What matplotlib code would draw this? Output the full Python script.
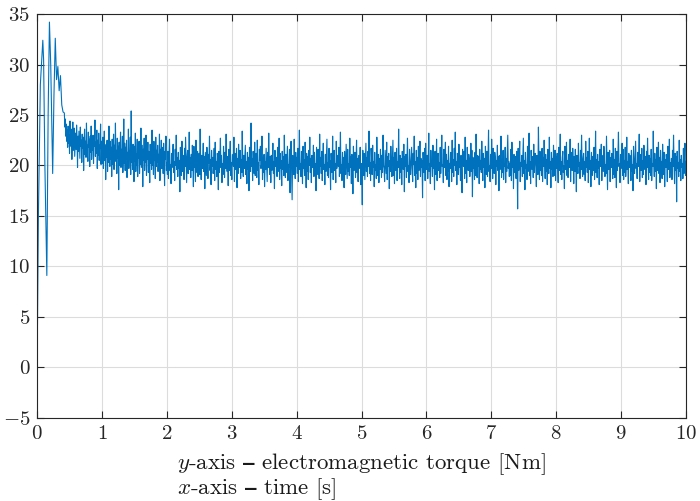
import numpy as np
import matplotlib
matplotlib.use("Agg")
import matplotlib.pyplot as plt

# ---- data ----
transient_time = [0.0, 0.02, 0.05, 0.088, 0.10, 0.12, 0.15, 0.17, 0.19, 0.21, 0.24, 0.26, 0.28,
                  0.30, 0.32, 0.34, 0.36, 0.38, 0.40]
transient_torque = [0.0, 15.0, 28.0, 32.4, 30.5, 20.0, 9.1, 25.0, 34.2, 30.0, 19.2, 27.0, 32.6,
                    28.5, 29.8, 27.4, 28.9, 26.0, 25.3]

early_span = (0.42, 1.0)
torque_early = [
    25.2, 23.8, 24.6, 22.9, 24.1, 22.4, 23.5, 21.8, 23.9, 22.2,
    23.0, 21.2, 24.4, 22.7, 21.9, 23.6, 20.6, 22.8, 24.3, 21.5,
    22.4, 23.7, 20.9, 22.1, 23.2, 21.6, 24.0, 22.6, 19.8, 22.9,
    21.4, 23.4, 22.0, 20.7, 23.8, 21.9, 22.5, 20.3, 23.1, 21.7,
    22.8, 19.5, 22.2, 23.6, 21.1, 22.4, 20.8, 24.2, 21.6, 22.0,
    20.4, 23.3, 21.8, 22.6, 19.9, 22.9, 21.3, 23.9, 20.6, 22.1,
    21.5, 23.0, 20.2, 22.7, 21.9, 24.5, 20.9, 22.3, 21.2, 23.5,
    19.7, 22.5, 21.0, 23.2, 20.5, 22.0, 21.7, 24.1, 20.1, 22.4,
]

mid_span = (1.0, 2.0)
torque_mid = [
    21.6, 20.2, 22.8, 19.7, 21.3, 23.4, 20.5, 21.9, 18.6, 22.1,
    20.8, 22.5, 19.4, 21.7, 20.3, 23.9, 21.1, 19.9, 22.4, 20.6,
    21.8, 18.9, 22.6, 20.1, 21.4, 23.1, 19.6, 22.0, 20.9, 24.2,
    20.4, 21.5, 19.2, 22.7, 20.7, 21.9, 17.6, 22.3, 20.0, 21.2,
    23.3, 19.8, 21.6, 20.5, 22.9, 19.3, 21.0, 24.6, 20.2, 22.2,
    19.5, 21.8, 20.6, 22.5, 18.8, 21.3, 20.0, 23.6, 19.7, 21.4,
    20.9, 22.8, 19.1, 25.4, 20.3, 21.7, 19.6, 22.1, 20.8, 18.4,
    21.9, 20.4, 23.2, 19.4, 21.1, 20.0, 22.6, 18.9, 21.5, 20.7,
    22.4, 19.2, 21.3, 20.1, 23.7, 19.8, 21.0, 22.0, 17.9, 21.6,
    20.5, 22.7, 19.5, 21.2, 20.3, 23.0, 19.0, 21.8, 20.6, 22.3,
    19.3, 21.4, 20.8, 18.3, 22.1, 20.2, 21.7, 19.6, 23.5, 20.0,
    21.3, 19.1, 22.4, 20.5, 21.0, 18.7, 22.8, 19.9, 21.5, 20.3,
    22.0, 19.4, 21.1, 20.7, 23.1, 18.5, 21.6, 20.1, 22.5, 19.7,
    20.9, 21.8, 19.2, 22.2, 20.4, 18.0, 21.4, 20.6, 22.9, 19.5,
]

steady_span = (2.0, 10.0)
torque_steady = [
    20.3, 19.1, 21.4, 18.7, 20.9, 22.6, 19.5, 20.1, 18.2, 21.2,
    19.8, 20.7, 22.1, 19.3, 20.4, 18.5, 21.6, 20.0, 23.0, 19.6,
    20.8, 18.9, 21.3, 19.7, 20.5, 17.4, 21.8, 20.2, 19.0, 22.4,
    19.4, 21.0, 20.3, 18.6, 21.7, 19.9, 22.8, 20.6, 18.3, 20.9,
    21.5, 19.2, 20.1, 23.3, 19.6, 20.8, 18.8, 21.1, 19.5, 22.0,
    20.4, 17.9, 21.9, 19.8, 20.6, 18.4, 22.5, 20.0, 19.3, 21.4,
    18.9, 20.7, 21.2, 19.1, 23.6, 20.3, 18.6, 21.0, 19.7, 20.5,
    22.2, 19.4, 20.9, 17.7, 21.3, 20.1, 19.0, 21.8, 20.4, 18.7,
    21.1, 20.2, 22.9, 19.5, 20.6, 18.1, 21.5, 19.9, 20.8, 19.2,
    20.0, 21.7, 18.5, 22.3, 19.6, 20.4, 18.9, 21.2, 20.7, 17.6,
    21.4, 19.3, 20.5, 22.7, 19.8, 21.0, 18.3, 20.2, 19.1, 21.9,
    20.6, 18.8, 21.3, 19.7, 23.1, 20.1, 19.4, 20.9, 18.0, 21.6,
    19.5, 20.8, 22.4, 19.0, 20.3, 18.6, 21.1, 20.5, 19.9, 22.8,
    18.4, 21.2, 20.0, 19.6, 21.7, 17.8, 20.7, 19.2, 22.1, 20.4,
    19.8, 21.5, 18.7, 20.6, 19.3, 23.4, 20.1, 18.9, 21.0, 19.7,
    20.9, 22.0, 19.1, 20.4, 18.2, 21.3, 19.6, 20.8, 17.5, 21.8,
    20.2, 19.4, 24.2, 19.9, 20.7, 18.5, 21.4, 20.0, 19.2, 22.3,
    19.0, 20.6, 21.2, 18.8, 22.5, 19.5, 20.3, 18.1, 21.6, 20.5,
    21.9, 19.7, 20.1, 22.9, 18.6, 20.8, 19.3, 21.1, 17.9, 20.4,
    19.6, 21.7, 20.0, 18.4, 21.3, 19.8, 23.2, 20.2, 19.1, 20.9,
    18.3, 21.0, 19.5, 20.6, 22.2, 19.2, 20.4, 17.7, 21.5, 20.1,
    19.9, 20.8, 18.9, 21.8, 19.4, 20.3, 22.7, 18.6, 21.2, 19.7,
    20.5, 18.0, 21.4, 19.6, 20.9, 19.0, 23.0, 20.2, 18.8, 21.1,
    19.3, 20.7, 21.9, 18.5, 20.1, 19.8, 21.6, 17.3, 20.6, 22.4,
    19.5, 16.6, 21.0, 20.3, 19.1, 22.6, 20.0, 18.7, 21.3, 19.9,
    20.8, 19.2, 21.7, 18.4, 20.5, 23.5, 19.6, 20.2, 18.9, 21.4,
    20.1, 18.2, 21.9, 19.7, 20.6, 19.0, 22.3, 20.4, 17.8, 21.2,
    19.4, 20.9, 18.6, 21.5, 20.0, 22.8, 19.3, 20.7, 18.3, 21.0,
    20.5, 19.8, 22.0, 18.9, 21.3, 19.5, 20.2, 17.5, 21.8, 20.3,
    19.1, 21.6, 20.4, 18.7, 23.1, 19.9, 20.8, 19.2, 21.4, 18.5,
    20.6, 22.2, 19.6, 20.1, 18.1, 21.1, 19.4, 20.9, 22.6, 19.0,
    20.3, 18.8, 21.7, 19.8, 20.5, 17.6, 21.2, 20.0, 19.3, 22.9,
    18.6, 20.7, 21.5, 19.5, 20.2, 18.3, 22.4, 19.7, 21.0, 20.4,
    19.9, 21.8, 18.9, 20.6, 23.3, 19.2, 20.1, 18.5, 21.3, 19.6,
    20.8, 17.8, 21.4, 20.0, 19.1, 22.1, 20.5, 18.7, 21.6, 19.4,
    20.2, 19.0, 22.7, 19.8, 20.9, 18.2, 21.1, 20.3, 17.2, 21.9,
    19.5, 20.6, 21.3, 18.8, 20.0, 22.5, 19.3, 20.7, 18.4, 21.0,
    20.4, 19.7, 21.8, 18.1, 20.2, 19.6, 16.1, 21.5, 20.1, 19.0,
    21.2, 18.6, 20.5, 22.2, 19.4, 20.8, 18.9, 21.4, 19.9, 23.4,
    19.2, 20.3, 18.5, 21.7, 20.6, 19.1, 22.0, 19.8, 20.4, 17.9,
    21.3, 19.5, 20.1, 18.7, 22.8, 20.2, 19.0, 21.1, 18.3, 20.7,
    19.6, 21.6, 20.3, 18.8, 21.0, 19.3, 23.0, 20.0, 19.7, 18.4,
    21.5, 20.4, 19.2, 22.3, 18.6, 20.9, 19.9, 21.2, 17.7, 20.5,
    19.4, 21.9, 20.1, 18.9, 20.6, 22.5, 19.0, 20.8, 18.2, 21.3,
    20.0, 19.5, 21.7, 18.5, 20.4, 19.8, 23.6, 20.2, 18.7, 21.0,
    19.3, 20.7, 18.1, 21.4, 20.3, 19.6, 22.1, 17.4, 20.9, 19.9,
    21.1, 18.8, 20.5, 22.7, 19.4, 20.0, 18.3, 21.6, 20.2, 19.1,
    20.6, 21.8, 19.7, 18.4, 21.2, 20.1, 22.9, 19.0, 20.4, 17.8,
    21.5, 19.2, 20.8, 18.6, 21.9, 19.5, 20.3, 22.4, 18.9, 20.7,
    19.8, 20.5, 16.8, 21.3, 20.0, 19.3, 21.7, 18.5, 22.2, 20.1,
    19.6, 21.0, 18.7, 20.6, 23.2, 19.4, 20.2, 18.2, 21.5, 19.9,
    20.4, 18.9, 22.0, 19.7, 20.8, 17.6, 21.4, 20.0, 19.1, 22.6,
    18.5, 20.9, 21.2, 19.5, 20.3, 18.8, 21.8, 19.2, 20.6, 23.0,
    19.9, 20.1, 18.3, 21.6, 19.8, 20.7, 22.3, 19.0, 21.1, 18.6,
    20.5, 19.4, 21.9, 17.9, 20.2, 19.7, 21.3, 20.8, 18.4, 22.5,
    19.3, 20.6, 18.9, 21.7, 20.0, 23.3, 19.5, 20.4, 18.1, 21.2,
    20.7, 19.1, 22.1, 19.8, 20.3, 18.5, 21.0, 19.6, 17.3, 21.6,
    20.1, 19.9, 21.4, 18.7, 22.8, 19.2, 20.5, 18.3, 21.8, 20.3,
    19.5, 21.1, 20.6, 18.9, 20.0, 22.2, 19.4, 21.5, 16.9, 20.8,
    19.7, 20.4, 18.6, 21.3, 19.0, 23.1, 20.2, 18.8, 21.0, 19.9,
    20.9, 18.2, 21.6, 19.6, 20.5, 19.3, 22.4, 20.1, 18.5, 21.2,
    19.8, 20.7, 17.8, 21.9, 20.3, 19.1, 21.4, 18.9, 20.6, 23.5,
    19.4, 20.0, 18.4, 21.1, 19.7, 22.6, 20.4, 18.7, 21.7, 20.2,
    19.2, 21.3, 20.8, 18.1, 20.5, 19.9, 22.0, 19.5, 20.9, 17.5,
    21.0, 19.6, 20.3, 22.9, 18.8, 20.6, 19.3, 21.5, 18.6, 20.1,
    19.9, 21.8, 18.3, 20.7, 19.4, 21.2, 23.0, 19.7, 20.4, 18.9,
    20.2, 19.0, 21.6, 18.5, 22.3, 19.8, 20.5, 17.7, 21.1, 20.0,
    19.3, 20.9, 18.7, 21.4, 20.1, 15.7, 21.7, 19.5, 20.6, 22.4,
    18.4, 20.3, 19.9, 21.0, 18.9, 20.8, 22.7, 19.2, 20.5, 17.6,
    21.3, 19.7, 20.1, 18.6, 21.9, 19.4, 20.7, 23.2, 19.0, 20.4,
    18.2, 21.5, 20.0, 19.6, 20.9, 18.8, 22.1, 19.3, 20.6, 21.2,
    19.8, 17.9, 21.0, 20.3, 19.1, 23.8, 20.5, 18.6, 21.4, 19.5,
    20.2, 19.0, 21.7, 18.4, 20.8, 19.9, 22.5, 20.1, 18.7, 21.1,
    19.4, 20.6, 18.1, 21.6, 20.0, 19.2, 22.8, 19.7, 20.4, 17.8,
    21.3, 19.6, 20.7, 18.9, 22.0, 20.3, 19.0, 21.5, 18.5, 20.9,
    19.7, 21.2, 20.1, 18.3, 21.8, 19.5, 20.6, 23.1, 19.1, 20.4,
    18.6, 20.8, 21.4, 19.3, 20.0, 17.7, 21.9, 20.2, 19.6, 22.3,
    19.0, 20.5, 18.8, 21.1, 20.3, 19.8, 22.6, 18.4, 21.3, 20.1,
    19.5, 21.7, 20.4, 18.2, 20.9, 19.4, 21.6, 20.0, 17.4, 21.0,
    20.6, 19.2, 22.2, 19.9, 20.3, 18.7, 21.5, 19.6, 23.0, 20.0,
    18.9, 20.7, 21.2, 19.1, 20.4, 18.5, 22.4, 19.8, 20.8, 19.3,
    21.4, 18.3, 20.1, 22.7, 19.6, 20.5, 17.9, 21.3, 20.2, 19.0,
    20.9, 19.5, 21.8, 18.6, 20.0, 23.4, 19.3, 20.6, 18.8, 21.1,
    19.7, 20.4, 18.1, 21.6, 20.3, 19.9, 22.1, 18.5, 21.0, 20.2,
    19.4, 21.9, 20.7, 18.9, 20.1, 19.2, 22.9, 20.5, 17.6, 21.3,
    20.0, 19.6, 21.5, 18.4, 20.8, 19.8, 21.2, 20.3, 18.7, 22.6,
    19.1, 20.6, 18.8, 21.7, 20.4, 17.8, 21.4, 19.5, 20.9, 23.3,
    19.9, 20.2, 18.3, 21.1, 19.7, 20.7, 22.2, 19.0, 21.6, 18.6,
    20.5, 19.3, 21.8, 18.9, 20.0, 22.8, 19.6, 20.4, 18.2, 21.2,
    19.8, 21.0, 20.6, 18.5, 21.5, 19.4, 20.1, 17.5, 21.9, 20.3,
    19.2, 20.8, 22.4, 19.7, 20.2, 18.7, 21.3, 19.9, 20.6, 23.1,
    18.4, 21.1, 20.0, 19.5, 21.7, 18.8, 20.5, 19.1, 22.0, 20.4,
    19.6, 20.9, 18.1, 21.4, 19.8, 22.7, 20.3, 18.6, 21.0, 19.3,
    20.7, 19.0, 21.6, 18.5, 20.2, 19.9, 23.4, 20.1, 18.9, 21.2,
    19.4, 20.6, 17.7, 21.8, 20.0, 19.5, 22.3, 19.2, 20.8, 18.3,
    21.5, 19.7, 20.4, 18.7, 22.1, 20.2, 19.1, 21.3, 17.9, 20.6,
    19.8, 21.1, 20.5, 18.4, 21.9, 19.6, 20.0, 22.6, 18.8, 20.3,
    19.3, 20.7, 18.6, 21.5, 19.9, 23.0, 20.1, 18.2, 21.2, 19.5,
    20.9, 16.4, 21.4, 19.7, 20.3, 18.9, 22.5, 19.4, 20.6, 18.5,
    21.0, 19.8, 20.2, 18.7, 21.7, 19.2, 20.5, 22.2, 19.0, 20.4,
]

x_ticks = [0, 1, 2, 3, 4, 5, 6, 7, 8, 9, 10]
y_ticks = [-5, 0, 5, 10, 15, 20, 25, 30, 35]
label_text = "$y$-axis $\\mathbf{\u2013}$ electromagnetic torque [Nm]\n$x$-axis $\\mathbf{\u2013}$ time [s]"

# ---- plotting ----
plt.rcParams["font.family"] = "serif"
plt.rcParams["font.serif"] = ["cmr10", "DejaVu Serif"]
plt.rcParams["mathtext.fontset"] = "cm"
plt.rcParams["axes.formatter.use_mathtext"] = True


def seg_time(span, values):
    return np.linspace(span[0], span[1], len(values), endpoint=False)


time = np.concatenate([transient_time,
                       seg_time(early_span, torque_early),
                       seg_time(mid_span, torque_mid),
                       np.linspace(steady_span[0], steady_span[1], len(torque_steady))])
torque = np.concatenate([transient_torque, torque_early, torque_mid, torque_steady])

fig = plt.figure(figsize=(7.0, 5.01), dpi=100)
ax = fig.add_axes([0.053, 0.166, 0.927, 0.806])
ax.plot(time, torque, color="#0072BD", linewidth=0.8)

ax.set_xlim(0, 10)
ax.set_ylim(-5, 35)
ax.set_xticks(x_ticks)
ax.set_yticks(y_ticks)
ax.grid(True, color="#dcdcdc", linewidth=0.8)
ax.set_axisbelow(True)
ax.tick_params(direction="in", top=True, right=True, length=5, width=0.8,
               labelsize=15, colors="#262626", pad=5)
for s in ax.spines.values():
    s.set_color("#262626")
    s.set_linewidth(0.8)

ax.set_xlabel(label_text, fontsize=16.5, multialignment="left",
              labelpad=6, linespacing=0.95, color="#1a1a1a")

fig.savefig("out.png", dpi=100)
